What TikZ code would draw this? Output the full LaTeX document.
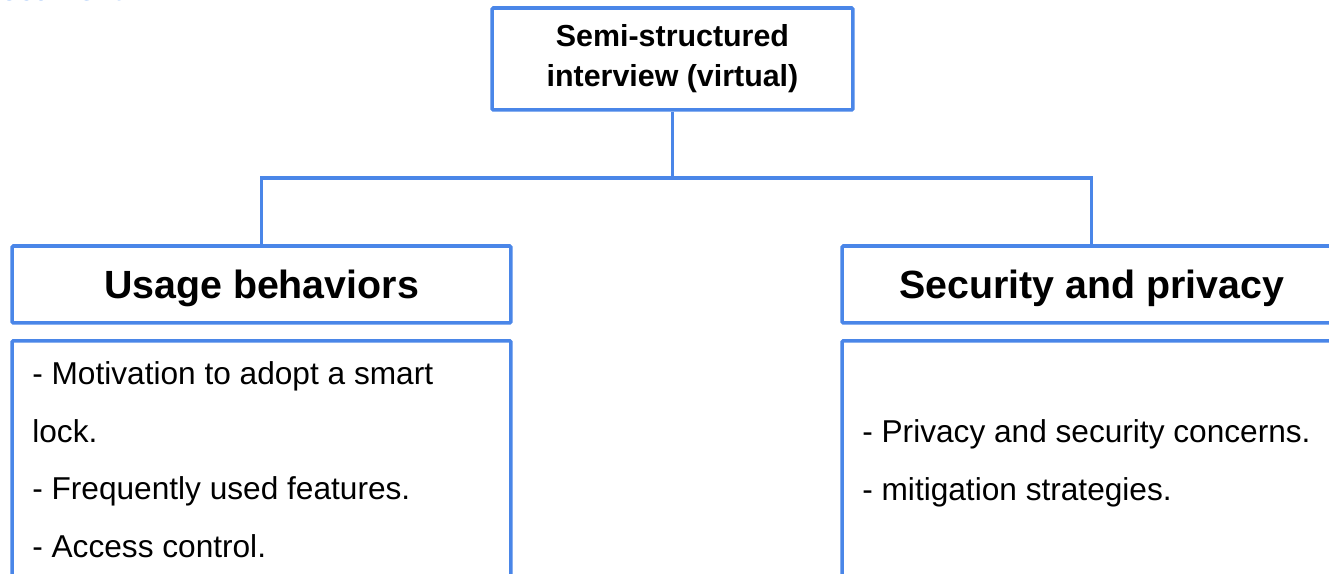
\documentclass[tikz,border=0pt]{standalone}
\usepackage{fontspec}
\setmainfont{Liberation Sans}
\usepackage{xcolor}
\usepackage{tikz}
\definecolor{boxblue}{HTML}{4A86E8}
\definecolor{linkblue}{HTML}{4D90F2}
\tikzset{
	box/.style={draw=boxblue,line width=2pt,fill=white,inner sep=0pt,rounded corners=0.8pt},
	headbox/.style={box,minimum width=9.98cm,minimum height=1.54cm,
		font=\bfseries\fontsize{22.4}{27}\selectfont,text height=16pt,text depth=0pt},
	itembox/.style={box,minimum width=9.98cm,minimum height=5.62cm,anchor=north},
	item/.style={anchor=base west,inner sep=0pt,font=\fontsize{18}{21}\selectfont},
	link/.style={draw=boxblue,line width=2pt}
}

\begin{document}
\begin{tikzpicture}[x=0.02cm,y=-0.02cm]
\useasboundingbox (0,0) rectangle (1329,574);
%
\node[anchor=base east,inner sep=0pt,font=\fontsize{18}{21}\selectfont] (frag) at (131,1) {\textcolor{linkblue}{document}.};
%
\node[box,minimum width=7.22cm,minimum height=2.04cm,align=center,
	font=\bfseries\fontsize{17.3}{22.7}\selectfont] (top) at (672.5,59) {Semi-structured\\interview (virtual)};
%
\node[headbox] (usage) at (261.5,284.5) {Usage behaviors};
\node[headbox] (secpriv) at (1091.5,284.5) {Security and privacy};
\node[itembox] (usagelist) at (261.5,339) {};
\node[itembox] (secprivlist) at (1091.5,339) {};
%
\coordinate (split) at (672.5,178);
\draw[link] (top.south) -- (split);
\draw[link] (usage.north) |- (split) -| (secpriv.north);
%
\node[item] (u1) at (32,384) {- Motivation to adopt a smart};
\node[item] (u2) at (32,442) {lock.};
\node[item] (u3) at (32,499) {- Frequently used features.};
\node[item] (u4) at (32,557) {- Access control.};
\node[item] (s1) at (862,442) {- Privacy and security concerns.};
\node[item] (s2) at (862,500) {- mitigation strategies.};
\end{tikzpicture}
\end{document}
